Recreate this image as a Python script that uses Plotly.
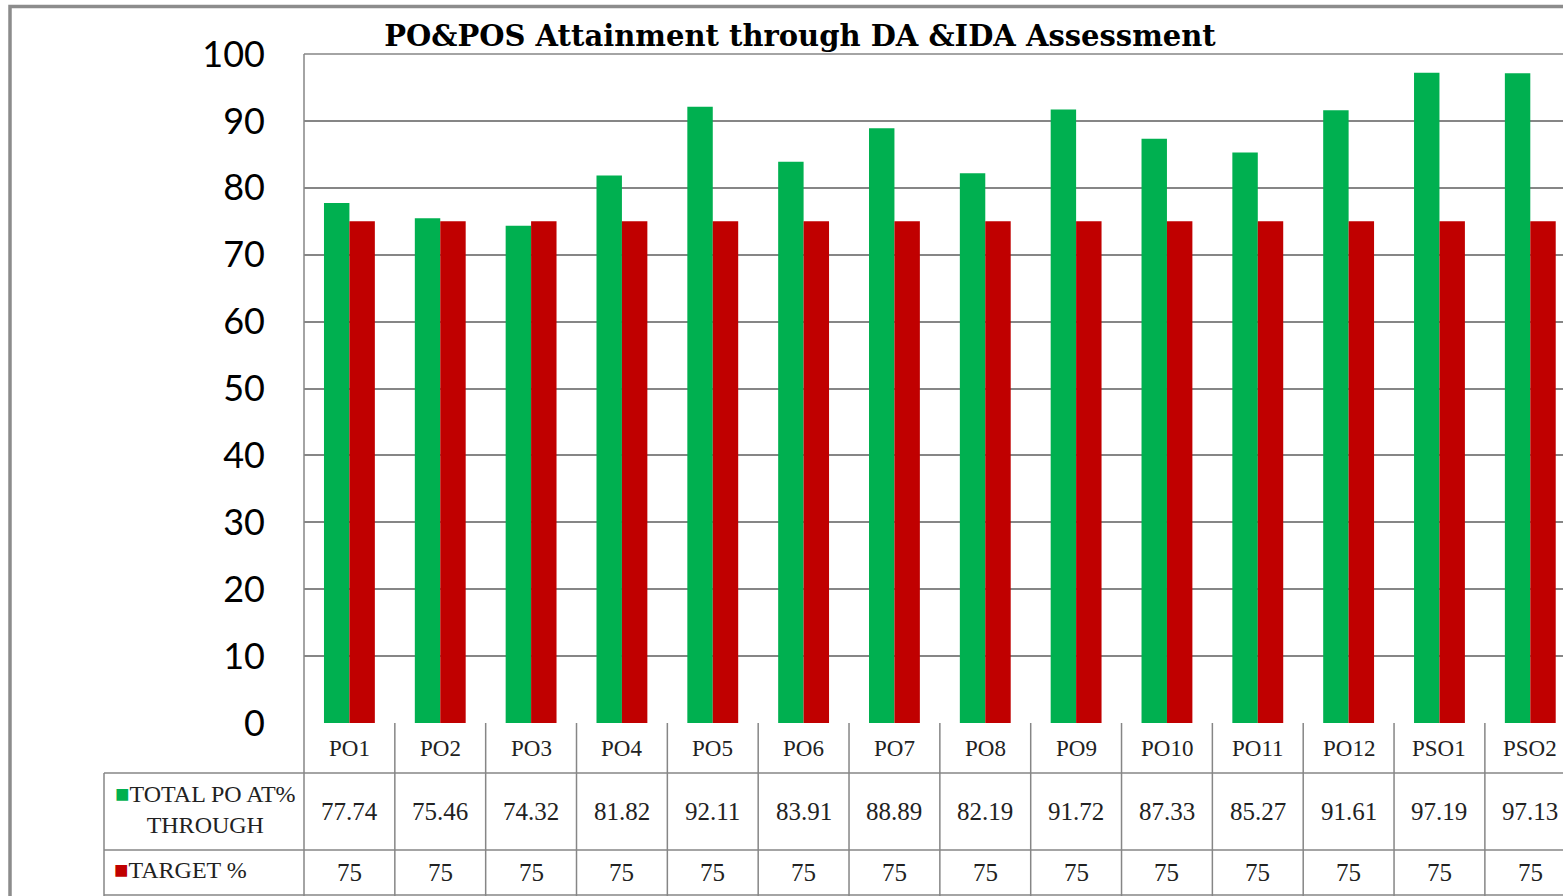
import plotly.graph_objects as go

categories = ["PO1", "PO2", "PO3", "PO4", "PO5", "PO6", "PO7", "PO8", "PO9", "PO10", "PO11", "PO12", "PSO1", "PSO2"]
total_po = [77.74, 75.46, 74.32, 81.82, 92.11, 83.91, 88.89, 82.19, 91.72, 87.33, 85.27, 91.61, 97.19, 97.13]
target = [75, 75, 75, 75, 75, 75, 75, 75, 75, 75, 75, 75, 75, 75]
series_names = ["TOTAL PO AT% THROUGH", "TARGET %"]
y_ticks = [0, 10, 20, 30, 40, 50, 60, 70, 80, 90, 100]

GREEN = "#00B050"
RED = "#C00000"
GRID = "#868686"
SERIF = "Liberation Serif"

W, H = 1563, 896
PL, PT, PB = 304, 54, 723
L, T, B, R = PL, PT, H - PB, 0
plot_w = W - L - R
plot_h = H - T - B

def py(pix):  # pixel y -> paper y
    return (PB - pix) / plot_h

def px(pix):  # pixel x -> paper x
    return (pix - PL) / plot_w

idx = list(range(len(categories)))

fig = go.Figure()
fig.add_trace(go.Bar(x=idx, y=total_po, name=series_names[0], marker=dict(color=GREEN, line=dict(width=0))))
fig.add_trace(go.Bar(x=idx, y=target, name=series_names[1], marker=dict(color=RED, line=dict(width=0))))

shapes = []
ann = []
# outer frame
shapes.append(dict(type="rect", xref="paper", yref="paper", x0=px(10), x1=px(1600), y0=py(1000), y1=py(6.5),
                   line=dict(color="#8C8C8C", width=3.5), layer="below"))
# table horizontal lines
for ypix, x0 in [(773, 104), (850, 104), (895, 104)]:
    shapes.append(dict(type="line", xref="paper", yref="paper", x0=px(x0), x1=1.02, y0=py(ypix), y1=py(ypix),
                       line=dict(color=GRID, width=1.5)))
# header column left line
shapes.append(dict(type="line", xref="paper", yref="paper", x0=px(104), x1=px(104), y0=py(773), y1=py(900),
                   line=dict(color=GRID, width=1.5)))
# plot left line extended into table
shapes.append(dict(type="line", xref="paper", yref="paper", x0=0, x1=0, y0=1, y1=py(900),
                   line=dict(color=GRID, width=1.5)))
# category boundaries
for i in idx:
    shapes.append(dict(type="line", xref="x", yref="paper", x0=i + 0.5, x1=i + 0.5, y0=0, y1=py(900),
                       line=dict(color=GRID, width=1.5)))
# plot top border
shapes.append(dict(type="line", xref="paper", yref="paper", x0=0, x1=1.02, y0=1, y1=1,
                   line=dict(color=GRID, width=1.5)))

row_font = dict(family=SERIF, size=25, color="#222222")
for i, c in enumerate(categories):
    ann.append(dict(x=i, y=py(748), xref="x", yref="paper", text=c, showarrow=False,
                    font=dict(family=SERIF, size=23, color="#222222"), yanchor="middle"))
    ann.append(dict(x=i, y=py(811), xref="x", yref="paper", text=f"{total_po[i]:.2f}", showarrow=False,
                    font=row_font, yanchor="middle"))
    ann.append(dict(x=i, y=py(872), xref="x", yref="paper", text=f"{target[i]:g}", showarrow=False,
                    font=row_font, yanchor="middle"))

ann.append(dict(x=px(205), y=py(809), xref="paper", yref="paper",
                text=f"<span style='color:{GREEN}'>■</span>TOTAL PO AT%<br>THROUGH", showarrow=False,
                align="center", font=dict(family=SERIF, size=24, color="#222222"), yanchor="middle", xanchor="center"))
ann.append(dict(x=px(112), y=py(870), xref="paper", yref="paper",
                text=f"<span style='color:{RED}'>■</span>TARGET %", showarrow=False,
                align="left", font=dict(family=SERIF, size=24, color="#222222"), yanchor="middle", xanchor="left"))

fig.update_layout(
    width=W, height=H,
    margin=dict(l=L, r=R, t=T, b=B, autoexpand=False),
    paper_bgcolor="white", plot_bgcolor="white",
    showlegend=False,
    barmode="group", bargap=0.44, bargroupgap=0,
    title=dict(text="<b>PO&POS Attainment through DA &IDA Assessment</b>", x=800 / W, xanchor="center",
               xref="container", y=1 - 36 / H, yref="container", yanchor="middle",
               font=dict(family="DejaVu Serif", size=29, color="black")),
    xaxis=dict(range=[-0.5, 13.36], showticklabels=False, showgrid=False, zeroline=False, showline=False,
               tickmode="array", tickvals=idx),
    yaxis=dict(range=[0, 100], tickmode="array", tickvals=y_ticks, showgrid=True, gridcolor=GRID, gridwidth=1.5,
               zeroline=False, showline=False, ticks="", ticklabelstandoff=38,
               tickfont=dict(family="Lato", size=36, color="black")),
    shapes=shapes, annotations=ann,
)

fig.write_html("out.html", config={"displayModeBar": False},
               post_script="document.body.style.margin='0';document.body.style.overflow='hidden';")
